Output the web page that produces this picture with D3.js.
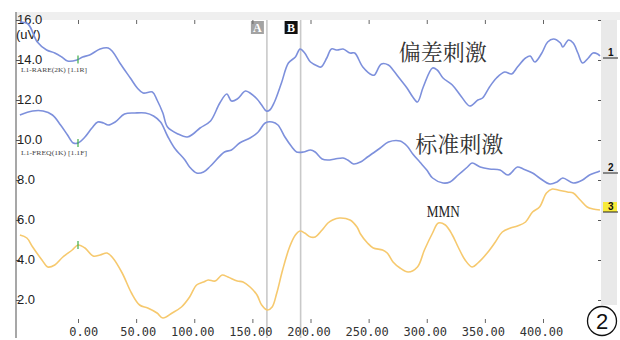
<!DOCTYPE html>
<html>
<head>
<meta charset="utf-8">
<script src="https://cdn.jsdelivr.net/npm/d3@7"></script>
<style>
  body { margin: 0; background: #fff; }
  svg { display: block; }
</style>
</head>
<body>
<svg id="chart" width="620" height="340"></svg>
<script>
// ---- data: latency (ms) and amplitude (uV) for each trace ----
const deviantTimes = [-50,-43,-35,-27,-20,-14,-9,-1,4,10,19,26,30,36,45,51,56,64,68,73,77,86,94,99,105,114,122,128,132,137,144,148,154,158,162,165,169,175,181,187,191,195,200,206,209,214,218,223,228,234,238,245,253,255,261,267,271,277,283,288,292,297,305,309,314,322,330,337,344,348,354,360,367,373,378,385,389,393,399,404,409,415,417,422,426,430,434,439,443,447,449];
const deviantValues = [15.9,15.8,14.9,14.5,14.35,14.15,13.95,14.0,14.15,14.25,14.55,14.6,14.4,13.85,13.1,12.6,12.35,12.4,12.0,11.35,10.65,10.3,10.15,10.3,10.6,10.95,11.85,12.3,11.95,12.05,12.45,12.35,12.05,11.75,11.45,11.5,11.9,12.85,13.85,14.15,14.55,14.35,13.9,13.7,13.65,14.1,14.55,14.5,14.55,14.35,14.35,13.65,13.25,13.25,13.8,13.75,13.5,13.05,12.6,12.15,11.9,12.65,13.6,13.5,13.1,12.75,12.15,11.7,12.0,12.1,12.65,13.1,13.4,13.3,13.65,14.1,14.2,13.9,14.35,14.9,15.05,14.85,14.65,15.0,14.85,14.35,13.85,14.1,14.35,14.3,14.2];

const standardTimes = [-50,-39,-30,-22,-15,-9,-4,0,6,12,17,22,26,32,40,49,58,65,71,77,83,92,96,102,108,114,126,132,139,148,155,161,167,172,178,184,188,194,200,204,210,215,221,228,232,237,243,249,254,260,267,277,283,288,294,300,305,314,320,327,335,339,346,354,363,370,378,383,391,397,406,412,417,426,434,440,447,449];
const standardValues = [11.25,11.45,11.45,11.25,10.75,10.25,9.85,9.85,10.15,10.6,10.9,10.85,10.75,10.9,11.3,11.35,11.35,11.2,10.9,10.2,9.6,9.0,8.65,8.35,8.4,8.7,9.4,9.5,9.85,10.1,10.4,10.85,10.9,10.75,10.15,9.65,9.4,9.4,9.5,9.4,9.05,9.0,9.05,9.1,9.0,8.8,8.9,9.15,9.35,9.6,9.9,9.95,9.7,9.3,8.9,8.5,8.1,7.85,7.9,8.25,8.65,8.85,8.65,8.55,8.5,8.25,8.65,8.55,8.35,8.1,7.8,7.9,8.1,7.85,8.0,8.25,8.4,8.45];

const mmnTimes = [-50,-44,-39,-31,-26,-20,-13,-5,0,6,13,19,25,30,38,46,53,60,68,73,81,89,96,102,108,112,118,124,129,137,142,148,154,158,163,167,171,176,182,187,191,195,200,204,210,215,219,225,234,240,243,249,254,262,266,271,277,284,292,298,305,310,316,322,327,333,339,344,352,359,365,372,378,385,391,397,403,408,413,421,426,432,438,443,449];
const mmnValues = [5.25,5.1,4.65,4.0,3.65,3.75,4.15,4.5,4.75,4.6,4.2,4.25,4.35,4.1,3.35,2.35,1.75,1.6,1.35,1.1,1.35,1.65,2.15,2.75,2.9,3.0,2.95,3.25,3.15,2.95,2.9,2.65,2.25,1.75,1.5,1.65,2.35,3.5,4.65,5.25,5.45,5.35,5.15,5.15,5.5,5.85,6.0,6.1,6.0,5.65,5.3,4.85,4.6,4.5,4.35,3.9,3.6,3.4,3.65,4.5,5.35,5.85,5.75,5.25,4.65,4.0,3.65,3.85,4.35,4.9,5.4,5.6,5.7,5.9,6.4,6.65,7.35,7.55,7.5,7.4,7.35,7.0,6.65,6.55,6.5];

const yTickValues = [16, 14, 12, 10, 8, 6, 4, 2];
const xTickValues = [0, 50, 100, 150, 200, 250, 300, 350, 400];
const cursorNames = ["A", "B"];
const cursorTimes = [162.5, 191.5];
const traceNumbers = ["1", "2", "3"];
const traceTags = ["L1-RARE(2K) [1.1R]", "L1-FREQ(1K) [1.1F]"];
const traceTitles = ["偏差刺激", "标准刺激", "MMN"];
const unitLabel = "(uV)";

// ---- scales ----
const x = d3.scaleLinear().domain([0, 400]).range([78, 543]);
const y = d3.scaleLinear().domain([2, 16]).range([300, 20]);

const svg = d3.select("#chart");
const BLUE = "#7d90dc";
const YELLOW = "#f6c96e";

const traces = [
  { t: deviantTimes, v: deviantValues, color: BLUE },
  { t: standardTimes, v: standardValues, color: BLUE },
  { t: mmnTimes, v: mmnValues, color: YELLOW }
];

// value of a trace at a given latency (linear between samples)
function valueAt(tr, t) {
  const i = Math.max(1, Math.min(tr.t.length - 1, d3.bisectLeft(tr.t, t)));
  const t0 = tr.t[i - 1], t1 = tr.t[i];
  const k = (t - t0) / (t1 - t0);
  return tr.v[i - 1] + k * (tr.v[i] - tr.v[i - 1]);
}

// ---- frame: top band, right strip, left axis line ----
svg.append("rect").attr("x", 16).attr("y", 12).attr("width", 604).attr("height", 8)
  .attr("fill", "#efefef");
svg.append("rect").attr("x", 601).attr("y", 20).attr("width", 16).attr("height", 285)
  .attr("fill", "#e9e9e9");
svg.append("line").attr("x1", 16).attr("x2", 16).attr("y1", 12).attr("y2", 338)
  .attr("stroke", "#8a8a8a").attr("stroke-width", 1.5);

// ---- cursor lines ----
cursorTimes.forEach((ct, i) => {
  const cx = x(ct);
  svg.append("line").attr("x1", cx).attr("x2", cx).attr("y1", 20).attr("y2", 338)
    .attr("stroke", "#c9c9c9").attr("stroke-width", 1.6);
  svg.append("rect").attr("x", cx - 16).attr("y", 21).attr("width", 13).attr("height", 13)
    .attr("fill", i === 0 ? "#a3a3a3" : "#111");
  svg.append("text").attr("x", cx - 9.5).attr("y", 32)
    .attr("text-anchor", "middle")
    .attr("font-family", "Liberation Serif, serif").attr("font-weight", "bold")
    .attr("font-size", 12).attr("fill", "#fff").text(cursorNames[i]);
});

// ---- axes ----
const yAxis = d3.axisRight(y).tickValues(yTickValues).tickFormat(d3.format(".1f"))
  .tickSizeInner(4).tickSizeOuter(0).tickPadding(-3);
const gy = svg.append("g").attr("transform", "translate(16,0)").call(yAxis);
gy.select(".domain").remove();
gy.selectAll("line").attr("stroke", "#555");
gy.selectAll("text").attr("font-family", "Liberation Sans, Arial, sans-serif")
  .attr("font-size", 13).attr("fill", "#222").attr("dy", "0.25em");

svg.append("text").attr("x", 16).attr("y", 39)
  .attr("font-family", "Liberation Sans, Arial, sans-serif").attr("font-size", 13)
  .attr("fill", "#222").text(unitLabel);

// right-hand tick marks
const gr = svg.append("g").attr("transform", "translate(601,0)")
  .call(d3.axisLeft(y).tickValues(yTickValues).tickSizeInner(3).tickSizeOuter(0).tickFormat(""));
gr.select(".domain").remove();
gr.selectAll("line").attr("stroke", "#555");

// top tick marks
const gt = svg.append("g").attr("transform", "translate(0,20)")
  .call(d3.axisBottom(x).tickValues(xTickValues).tickSizeInner(4).tickSizeOuter(0).tickFormat(""));
gt.select(".domain").remove();
gt.selectAll("line").attr("stroke", "#666");

// bottom ticks and latency labels (integer part ends at the tick)
const CHAR_W = 7.22;
const gx = svg.append("g").attr("transform", "translate(0,319)")
  .call(d3.axisBottom(x).tickValues(xTickValues).tickSizeInner(4).tickSizeOuter(0)
    .tickFormat(d3.format(".2f")).tickPadding(4));
gx.select(".domain").remove();
gx.selectAll("line").attr("stroke", "#666");
gx.selectAll("text")
  .attr("font-family", "DejaVu Sans Mono, monospace").attr("font-size", 12)
  .attr("fill", "#333").attr("text-anchor", "start")
  .attr("x", d => -String(Math.trunc(d)).length * CHAR_W - 2);

// ---- traces ----
const line = d3.line().x(d => x(d[0])).y(d => y(d[1])).curve(d3.curveCatmullRom.alpha(0.5));
traces.forEach(tr => {
  svg.append("path").datum(d3.zip(tr.t, tr.v))
    .attr("d", line).attr("fill", "none")
    .attr("stroke", tr.color).attr("stroke-width", 1.6)
    .attr("stroke-linejoin", "round");
});

// stimulus-onset markers on each trace
traces.forEach(tr => {
  const yy = y(valueAt(tr, 0));
  svg.append("line").attr("x1", x(0)).attr("x2", x(0)).attr("y1", yy - 4).attr("y2", yy + 4)
    .attr("stroke", "#3fae49").attr("stroke-width", 1.2);
});

// trace tags under the first two traces' axis labels
[13.4, 9.25].forEach((v, i) => {
  svg.append("text").attr("x", 21).attr("y", y(v))
    .attr("font-family", "Liberation Serif, serif").attr("font-size", 6.5)
    .attr("fill", "#444").attr("textLength", 66).attr("lengthAdjust", "spacingAndGlyphs")
    .text(traceTags[i]);
});

// trace number markers at the right end
traces.forEach((tr, i) => {
  const yy = y(tr.v[tr.v.length - 1]);
  if (i === 2) {
    svg.append("rect").attr("x", 603).attr("y", yy - 8).attr("width", 14).attr("height", 10)
      .attr("fill", "#f7ea3a");
  }
  svg.append("line").attr("x1", 603).attr("x2", 618).attr("y1", yy + 2).attr("y2", yy + 2)
    .attr("stroke", "#222").attr("stroke-width", 1);
  svg.append("text").attr("x", 608).attr("y", yy)
    .attr("font-family", "Liberation Sans, Arial, sans-serif").attr("font-weight", "bold")
    .attr("font-size", 10).attr("fill", "#111").text(traceNumbers[i]);
});

// ---- titles ----
svg.append("text").attr("x", x(276)).attr("y", y(14.0))
  .attr("font-family", "Noto Serif CJK SC, Noto Sans CJK SC, sans-serif")
  .attr("font-size", 22).attr("fill", "#333").text(traceTitles[0]);
svg.append("text").attr("x", x(290)).attr("y", y(9.4))
  .attr("font-family", "Noto Serif CJK SC, Noto Sans CJK SC, sans-serif")
  .attr("font-size", 22).attr("fill", "#333").text(traceTitles[1]);
svg.append("text").attr("x", x(300)).attr("y", y(6.15))
  .attr("font-family", "Liberation Serif, serif")
  .attr("font-size", 17).attr("fill", "#222")
  .attr("textLength", 33).attr("lengthAdjust", "spacingAndGlyphs").text(traceTitles[2]);

// ---- panel number ----
svg.append("circle").attr("cx", 602).attr("cy", 321).attr("r", 14.5)
  .attr("fill", "none").attr("stroke", "#111").attr("stroke-width", 1.3);
svg.append("text").attr("x", 602).attr("y", 329).attr("text-anchor", "middle")
  .attr("font-family", "Liberation Sans, Arial, sans-serif").attr("font-size", 22)
  .attr("fill", "#111").text("2");
</script>
</body>
</html>
